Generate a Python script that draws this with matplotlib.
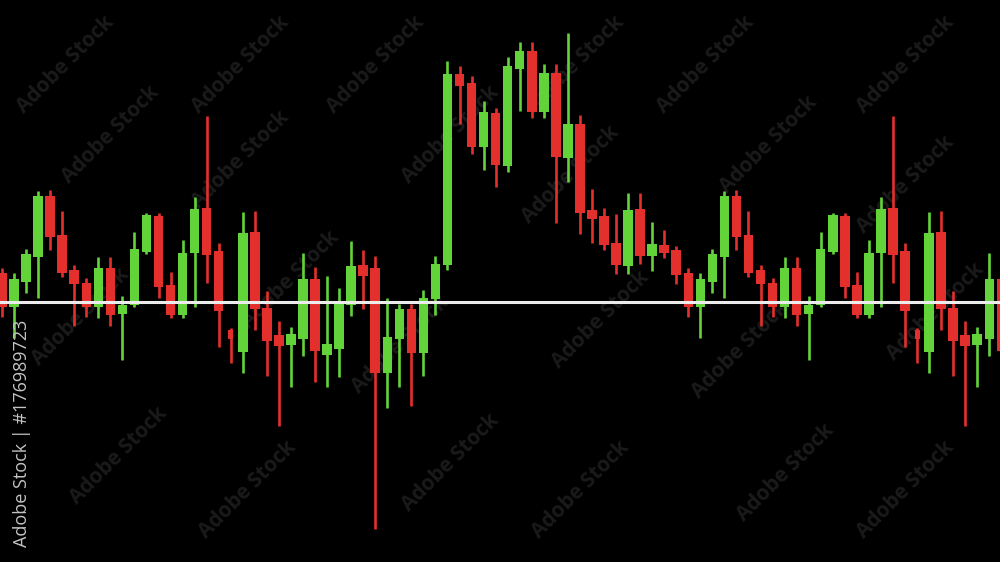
import matplotlib
matplotlib.use("Agg")
import matplotlib.pyplot as plt
import numpy as np

# candle data (price levels), one entry per candle
opens = [289, 255, 280, 305, 366, 327, 292, 279, 255, 294,
         248, 257, 310, 346, 277, 247, 309, 354, 311, 232,
         210, 330, 254, 227, 217, 223, 283, 207, 213, 257,
         297, 294, 189, 223, 253, 209, 263, 297, 488, 479,
         415, 449, 396, 493, 511, 450, 489, 404, 438, 352,
         346, 319, 296, 353, 306, 317, 312,
         289, 255, 280, 305, 366, 327, 292, 279, 255, 294,
         248, 257, 310, 346, 277, 247, 309, 354, 311, 232,
         210, 330, 254, 227, 217, 223, 283]
highs = [294, 289, 313, 371, 372, 351, 297, 284, 305, 305,
         266, 330, 349, 349, 290, 322, 365, 446, 319, 234,
         350, 351, 271, 241, 235, 309, 295, 286, 274, 321,
         312, 306, 264, 258, 258, 272, 306, 501, 496, 486,
         461, 454, 505, 520, 520, 498, 498, 529, 447, 373,
         354, 348, 369, 369, 340, 332, 316,
         294, 289, 313, 371, 372, 351, 297, 284, 305, 305,
         266, 330, 349, 349, 290, 322, 365, 446, 319, 234,
         350, 351, 271, 241, 235, 309, 295]
lows = [245, 224, 269, 264, 312, 285, 236, 245, 244, 236,
        202, 255, 308, 264, 244, 244, 255, 279, 215, 199,
        189, 232, 186, 136, 175, 206, 180, 175, 185, 246,
        253, 33, 154, 175, 156, 186, 247, 292, 438, 408,
        392, 375, 390, 451, 444, 444, 339, 380, 328, 319,
        312, 288, 288, 298, 291, 304, 278,
        245, 224, 269, 264, 312, 285, 236, 245, 244, 236,
        202, 255, 308, 264, 244, 244, 255, 279, 215, 199,
        189, 232, 186, 136, 175, 206, 180]
closes = [255, 283, 308, 366, 325, 289, 278, 255, 294, 247,
          257, 313, 347, 275, 247, 309, 353, 307, 251, 223,
          329, 253, 221, 216, 228, 283, 211, 218, 259, 296,
          286, 189, 225, 253, 209, 264, 298, 488, 476, 415,
          450, 397, 496, 511, 450, 489, 405, 438, 349, 343,
          317, 297, 352, 306, 318, 309, 287,
          255, 283, 308, 366, 325, 289, 278, 255, 294, 247,
          257, 313, 347, 275, 247, 309, 353, 307, 251, 223,
          329, 253, 221, 216, 228, 283, 211]
level = 260  # horizontal reference line

green = "#63d33a"
red = "#e3302c"

fig = plt.figure(figsize=(10, 5.62), dpi=100, facecolor="black")
ax = fig.add_axes([0, 0, 1, 1])
ax.set_facecolor("black")

x = np.arange(len(opens))
o = np.array(opens)
c = np.array(closes)
up = c >= o
cols = [green if u else red for u in up]

widths = np.full(len(x), 0.79)
widths[[19, 76]] = 0.42   # the two thin candles

ax.vlines(x, lows, highs, colors=cols, linewidth=1.9, zorder=2)
ax.bar(x, np.abs(c - o), bottom=np.minimum(o, c), width=widths,
       color=cols, linewidth=0, zorder=3)

ax.axhline(level, color="#ececec", linewidth=2.2, zorder=4)

ax.set_xlim(-2 / 12.04, 998 / 12.04)
ax.set_ylim(0, 562)
ax.axis("off")

# faint diagonal watermark, kept under the candles
marks = [(65, 65), (240, 65), (375, 65), (575, 65), (705, 65), (905, 65),
         (110, 135), (240, 160), (450, 135), (570, 175), (768, 145), (905, 185),
         (80, 317), (290, 280), (400, 345), (600, 320), (740, 350), (935, 312),
         (118, 456), (247, 490), (450, 463), (580, 490), (785, 473), (905, 490)]
for mx, my in marks:
    ax.text(mx / 1000, 1 - my / 562, "Adobe Stock", rotation=45,
            transform=fig.transFigure, ha="center", va="center",
            fontsize=15, fontweight="bold", family="Open Sans",
            color="#1a1a1a", zorder=1)

fig.text(0.022, 1 - 547 / 562, "Adobe Stock | #176989723", rotation=90,
         ha="center", va="bottom", fontsize=13, family="Open Sans",
         color="#c4c4c4")

fig.savefig("out.png", dpi=100, facecolor="black")
